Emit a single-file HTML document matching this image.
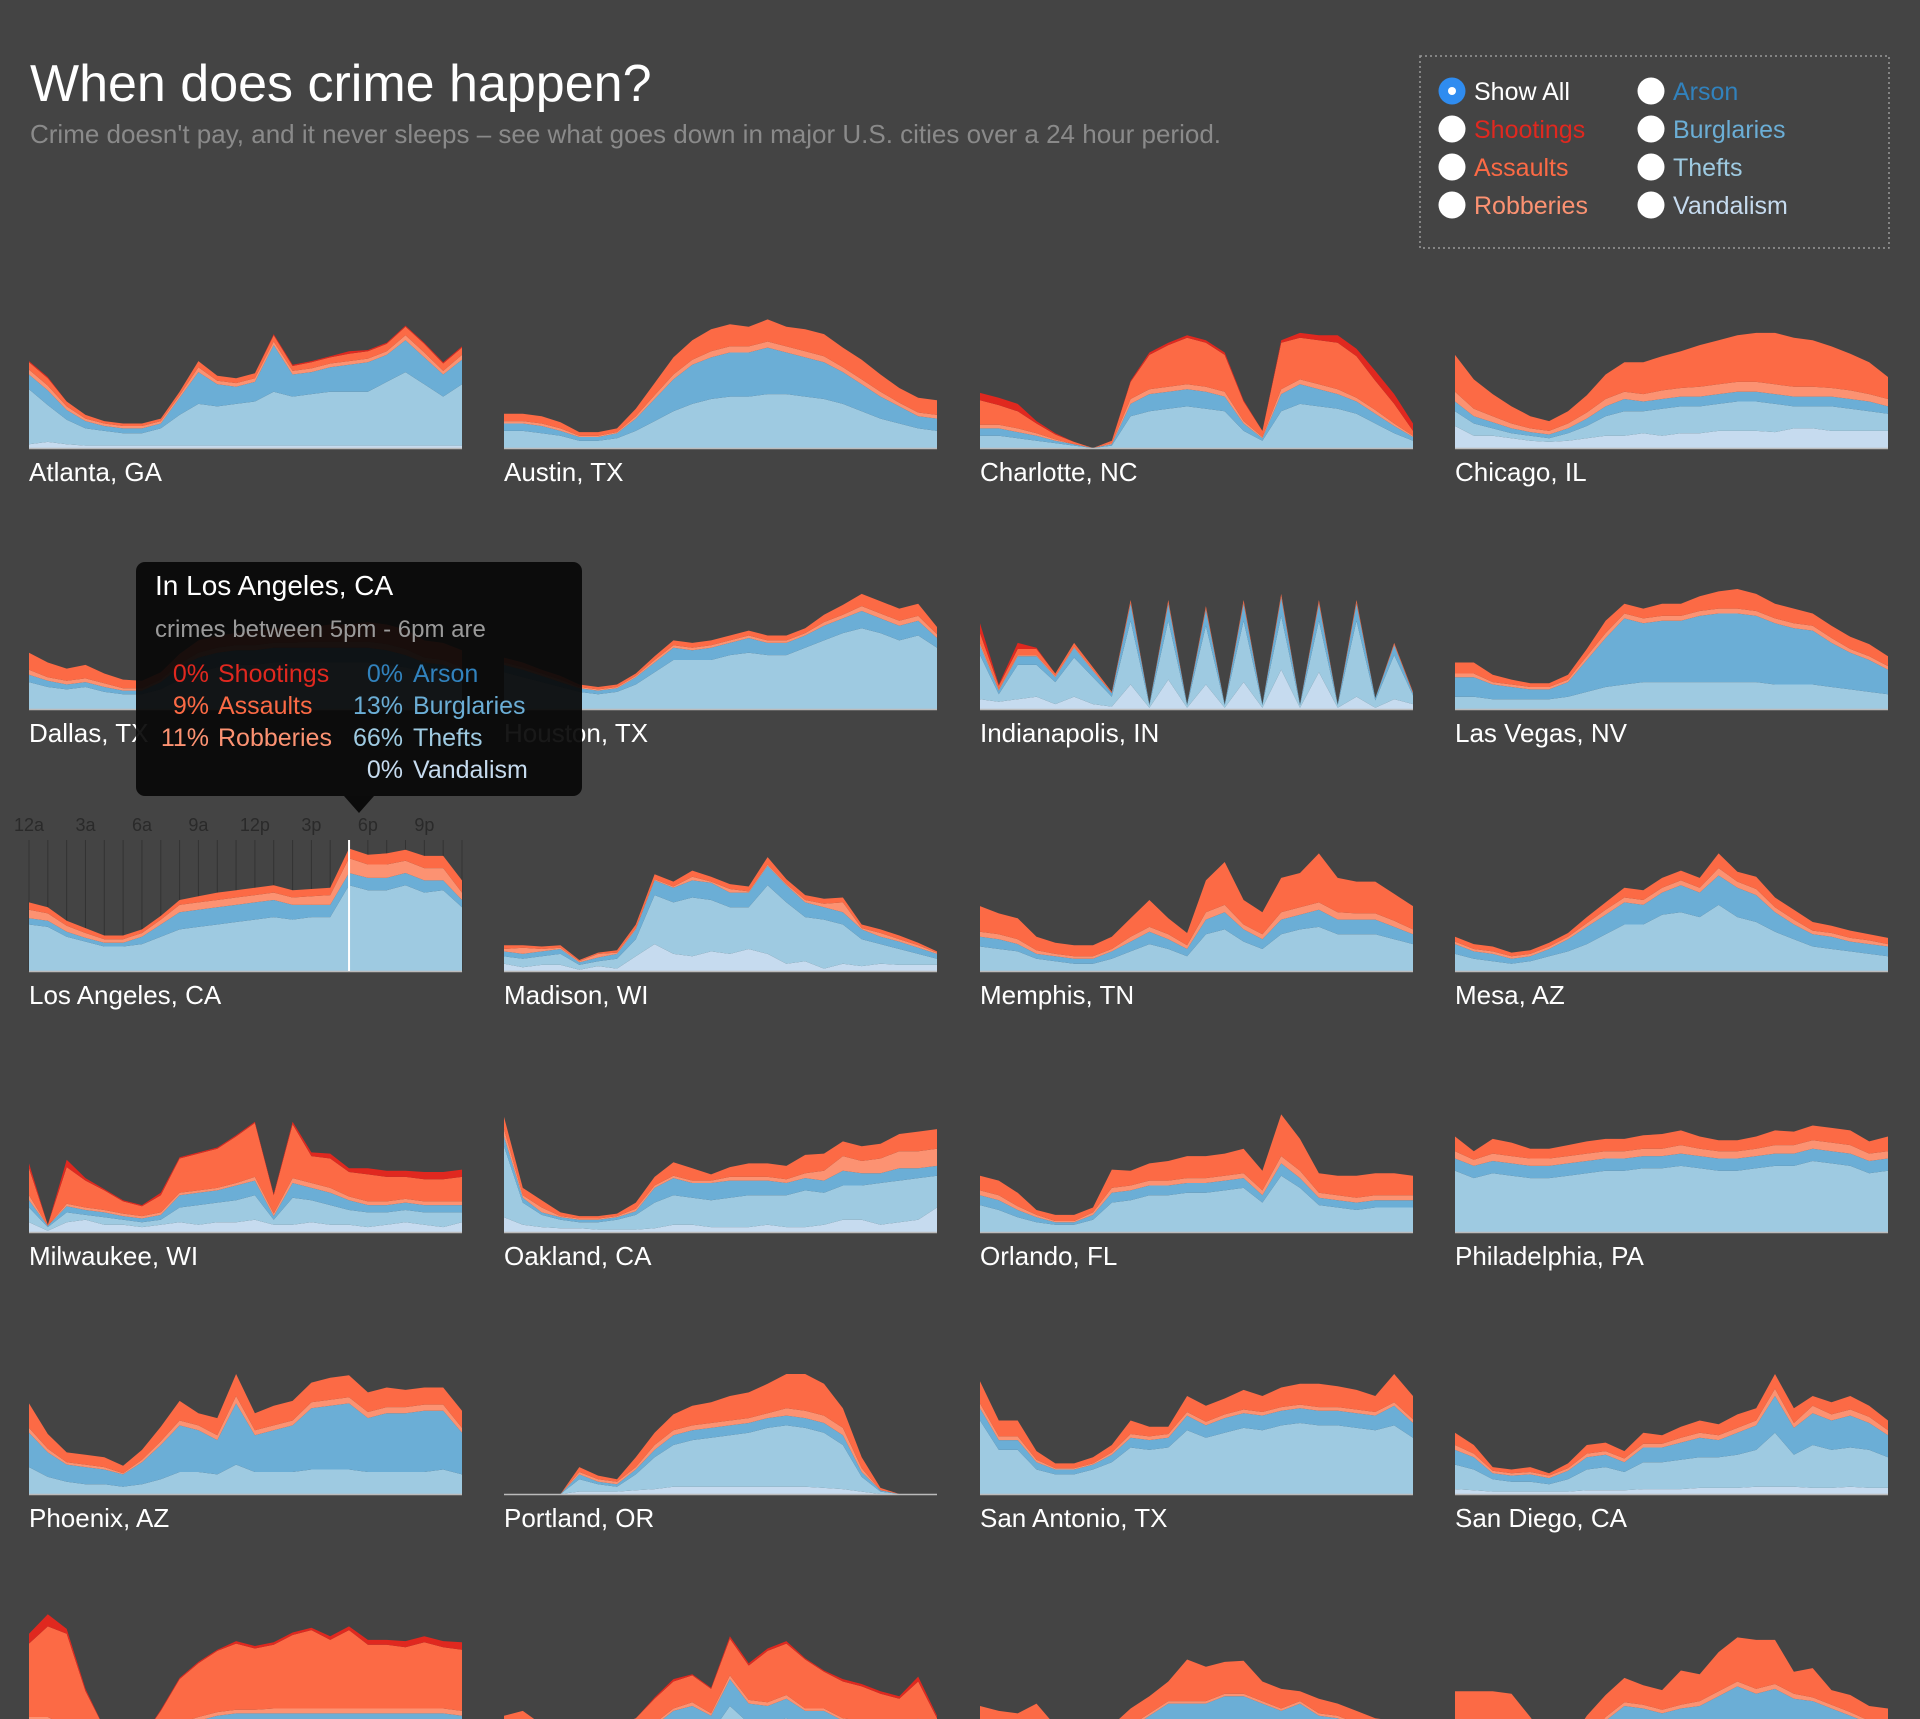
<!DOCTYPE html>
<html><head><meta charset="utf-8">
<style>
html,body{margin:0;padding:0;background:#444;}
body{width:1920px;height:1719px;overflow:hidden;font-family:"Liberation Sans",sans-serif;}
svg{display:block}
</style></head>
<body>
<svg id="page" width="1920" height="1719" xmlns="http://www.w3.org/2000/svg" font-family="Liberation Sans, sans-serif">
  <rect width="1920" height="1719" fill="#444"/>
  <text x="30" y="101" font-size="52" fill="#fff">When does crime happen?</text>
  <text x="30" y="143" font-size="26" fill="#8a8a8a">Crime doesn't pay, and it never sleeps – see what goes down in major U.S. cities over a 24 hour period.</text>
  <g id="legend">
    <rect x="1420" y="56" width="469" height="192" fill="none" stroke="#9a9a9a" stroke-width="1.5" stroke-dasharray="2,3"/>
  </g>
  <g id="charts"></g>
  <g id="tooltip"></g>
</svg>
<script>
const cities = ["Atlanta, GA","Austin, TX","Charlotte, NC","Chicago, IL","Dallas, TX","Houston, TX","Indianapolis, IN","Las Vegas, NV","Los Angeles, CA","Madison, WI","Memphis, TN","Mesa, AZ","Milwaukee, WI","Oakland, CA","Orlando, FL","Philadelphia, PA","Phoenix, AZ","Portland, OR","San Antonio, TX","San Diego, CA","San Francisco, CA","San Jose, CA","Seattle, WA","St. Louis, MO"];
const hourTicks = ["12a","3a","6a","9a","12p","3p","6p","9p"];
const vandalism = {
 "Atlanta, GA":[3,5,3,2,2,2,2,2,2,2,2,2,2,2,2,2,2,2,2,2,2,2,2,2],
 "Chicago, IL":[18,10,10,8,6,5,6,8,10,10,12,10,12,12,14,14,14,13,16,16,14,14,14,14],
 "Indianapolis, IN":[8,6,8,10,4,10,4,2,20,1,24,1,20,1,22,1,32,1,30,1,10,1,8,4],
 "Madison, WI":[6,3,5,5,1,4,2,12,22,14,12,16,14,18,14,6,8,2,6,4,6,5,5,5],
 "Milwaukee, WI":[8,1,8,10,6,6,4,6,8,6,8,8,10,6,6,8,6,6,4,6,8,6,4,8],
 "Oakland, CA":[12,6,4,3,3,2,2,2,3,6,6,4,4,4,6,4,4,6,10,10,6,8,10,20],
 "Portland, OR":[0,0,0,0,2,2,2,3,4,6,6,6,6,6,6,6,6,5,4,2,0,0,0,0],
 "San Diego, CA":[4,3,2,2,2,2,2,3,3,3,4,4,4,5,5,5,6,6,6,5,5,6,5,5]
};
const thefts = [
 [45,30,20,14,12,10,10,14,25,34,32,34,36,44,40,42,44,44,44,52,60,50,40,50],
 [14,14,12,10,6,6,8,14,22,30,36,40,42,42,44,44,42,40,36,30,24,20,16,14],
 [10,10,8,6,4,2,0,2,26,30,32,34,32,30,14,6,30,36,34,32,28,20,12,6],
 [12,10,6,4,4,3,6,10,16,20,18,22,22,22,22,24,24,23,18,18,20,18,16,14],
 [22,18,16,18,14,12,12,16,24,30,34,36,36,38,38,38,38,38,38,36,34,30,28,24],
 [30,26,22,18,14,12,14,20,30,40,40,40,44,46,44,44,50,56,62,66,62,56,60,50],
 [36,6,28,26,18,32,22,8,52,2,48,2,48,2,50,2,44,2,42,2,62,6,36,7],
 [10,10,8,8,8,8,10,14,18,20,22,22,22,22,22,22,22,20,20,20,18,16,14,12],
 [38,36,28,24,20,20,22,28,34,36,38,40,42,44,42,44,44,70,66,66,70,64,66,52],
 [6,7,7,9,4,4,8,14,40,42,48,42,38,34,56,50,36,40,32,22,16,13,9,5],
 [20,18,16,10,8,6,6,10,16,22,18,12,30,34,24,18,30,34,36,30,30,30,26,22],
 [14,10,8,6,8,12,16,22,30,38,38,46,48,44,54,44,40,32,26,20,18,16,14,12],
 [12,3,8,4,6,4,4,4,12,16,16,18,20,4,22,18,16,12,12,10,10,10,12,8],
 [58,18,10,7,5,6,8,12,21,24,22,22,24,26,24,26,30,26,28,28,34,34,34,26],
 [22,18,12,8,6,6,10,24,26,30,30,32,32,34,36,24,46,36,22,20,18,20,20,20],
 [50,44,48,46,44,44,46,48,50,50,52,52,54,52,50,50,52,54,54,58,56,54,48,50],
 [22,14,10,8,8,6,8,12,18,18,16,24,18,18,18,20,20,20,18,18,18,18,20,16],
 [0,0,0,0,10,6,4,13,26,34,38,40,42,44,48,50,48,45,36,12,2,0,0,0],
 [60,36,36,20,16,16,20,26,38,36,38,52,46,50,54,52,56,58,56,56,54,52,56,46],
 [20,17,10,8,8,6,10,17,19,15,22,22,24,25,25,27,30,44,26,35,31,32,31,25],
 [14,14,10,6,4,4,4,6,10,12,14,16,16,16,16,16,16,16,16,16,16,16,16,14],
 [4,8,2,2,2,2,2,6,12,18,22,18,40,26,26,30,22,22,16,16,12,10,14,4],
 [14,14,12,10,4,2,2,6,10,12,14,16,20,22,18,18,14,16,12,10,8,6,6,4],
 [10,10,10,10,6,2,2,4,12,16,14,12,14,16,18,20,20,20,18,16,14,12,10,10]
];
const burglaries = [
 [12,12,8,6,4,4,4,4,14,26,18,14,16,38,18,18,20,22,24,22,26,22,18,20],
 [6,6,6,4,3,3,4,10,18,26,32,34,36,36,38,34,32,30,26,22,18,14,10,10],
 [6,6,5,4,2,1,0,1,10,14,14,14,14,12,6,2,14,16,14,12,10,8,6,3],
 [8,6,5,4,3,3,4,6,8,10,8,8,8,8,8,8,8,8,8,8,8,8,8,6],
 [6,5,4,4,4,3,3,6,10,12,12,12,12,12,12,12,12,12,12,12,10,8,8,6],
 [6,6,5,4,3,3,3,6,8,10,8,10,10,12,10,10,10,12,12,14,12,12,12,8],
 [8,3,7,7,4,8,5,3,14,1,14,1,13,1,14,1,15,1,14,1,14,2,8,2],
 [16,16,12,10,8,8,12,26,40,54,48,50,50,54,56,56,54,50,46,44,36,30,26,20],
 [5,5,4,3,3,3,6,10,14,14,14,14,14,14,12,10,10,10,10,10,10,10,8,6],
 [4,4,4,4,2,3,4,8,12,12,14,14,12,12,16,14,12,10,10,8,6,6,5,4],
 [8,8,6,4,4,4,4,6,8,10,8,6,12,14,10,8,12,12,14,12,12,12,10,8],
 [8,6,6,4,4,6,10,14,16,18,16,18,22,20,24,24,22,16,12,10,10,8,8,8],
 [6,1,5,4,4,3,3,4,10,10,10,12,12,3,12,10,10,8,6,6,6,6,6,6],
 [8,4,2,2,2,2,2,3,12,14,12,14,14,12,12,10,10,10,12,10,8,10,8,8],
 [8,8,6,4,2,2,4,8,8,8,8,8,8,8,8,6,10,8,6,6,6,6,6,6],
 [10,10,10,10,10,10,10,10,10,10,10,10,10,10,10,10,10,10,10,10,10,10,10,10],
 [28,20,14,14,12,10,18,28,38,34,28,50,30,34,38,50,52,54,44,48,48,50,48,34],
 [0,0,0,0,4,2,2,4,6,8,8,8,8,8,8,8,8,8,8,4,1,0,0,0],
 [10,8,8,6,4,4,4,6,8,8,8,12,10,12,12,12,12,12,12,12,12,12,16,12],
 [12,10,5,5,6,5,7,10,10,8,12,12,14,16,14,18,20,30,22,26,24,26,22,18],
 [14,14,10,6,4,4,4,6,14,16,18,18,18,18,18,18,18,18,18,18,18,18,18,18],
 [4,8,2,2,2,2,2,6,12,18,18,14,22,16,14,16,14,14,12,10,10,10,14,4],
 [12,10,10,10,4,2,2,6,12,20,28,26,22,26,30,24,22,26,20,20,16,12,12,8],
 [12,12,12,12,6,2,2,6,16,24,24,22,24,24,30,36,30,34,28,28,24,20,16,14]
];
const robberies = [
 [4,4,3,2,2,2,2,2,2,4,3,3,3,3,3,3,3,3,3,3,4,4,3,4],
 [2,2,2,2,1,1,1,2,3,4,4,5,5,5,5,5,5,5,4,4,4,3,3,3],
 [3,3,3,2,1,0,0,1,4,4,4,4,4,4,2,1,4,4,4,4,3,3,2,1],
 [8,6,5,4,3,3,4,5,6,6,6,7,7,8,8,8,8,8,8,8,7,7,6,6],
 [4,3,3,3,3,2,2,2,3,4,4,4,4,4,4,5,5,5,5,5,5,4,4,4],
 [2,2,2,2,1,1,1,1,2,2,2,2,2,2,2,2,2,3,3,4,4,4,4,3],
 [2,1,1,1,1,1,1,0,1,0,1,0,1,0,1,0,1,0,1,0,1,0,1,0],
 [3,3,2,2,2,2,2,3,4,4,4,4,4,4,4,4,4,4,4,4,4,3,3,3],
 [7,6,5,4,3,3,3,4,6,6,6,6,6,6,6,7,8,12,11,11,10,10,10,6],
 [2,5,2,1,1,3,1,1,1,1,3,1,3,1,1,1,2,3,8,1,3,2,2,1],
 [4,4,4,3,2,2,2,2,4,4,4,3,6,6,4,4,6,6,6,6,5,5,5,4],
 [2,2,2,2,2,2,2,3,4,4,4,4,4,4,6,5,5,4,4,3,3,3,3,2],
 [4,0,2,2,2,2,2,2,2,2,2,2,3,2,4,4,4,3,3,3,3,3,3,3],
 [6,2,4,1,1,1,1,2,2,2,2,2,3,3,3,3,4,8,12,10,12,14,14,14],
 [4,4,3,2,1,1,2,4,4,4,4,4,4,4,4,4,6,6,4,4,4,4,4,4],
 [6,5,6,6,6,6,6,6,6,6,6,6,7,6,6,6,6,7,7,7,7,7,6,6],
 [4,3,2,2,2,1,2,3,4,4,4,6,4,4,4,5,5,5,5,5,5,5,5,4],
 [0,0,0,0,2,2,2,2,4,4,4,4,4,4,4,6,6,6,6,3,0,0,0,0],
 [4,3,3,2,1,1,1,2,3,3,3,3,3,3,3,3,3,3,3,3,3,3,3,3],
 [4,3,2,2,2,2,2,3,3,3,3,3,4,4,4,4,4,6,4,6,5,5,5,4],
 [3,3,3,2,2,2,2,2,2,3,3,3,3,4,4,4,4,4,4,4,4,4,4,4],
 [2,2,1,1,1,1,1,2,2,2,3,2,3,3,3,3,2,2,2,2,2,2,2,2],
 [2,2,2,2,1,1,1,2,2,2,2,2,2,2,2,2,2,2,2,2,2,2,2,2],
 [2,2,2,2,1,1,1,2,3,3,3,3,3,4,4,4,4,4,4,3,3,3,2,2]
];
const assaults = [
 [6,6,4,3,2,2,2,2,3,5,4,4,4,5,4,5,5,6,6,6,7,7,6,6],
 [6,6,6,5,3,3,3,6,10,14,16,18,18,16,18,16,18,18,16,16,14,12,12,12],
 [20,16,14,8,4,2,0,2,14,28,34,38,36,30,16,5,38,34,36,38,34,24,16,4],
 [30,24,18,14,10,8,10,14,20,24,26,28,30,34,36,38,40,42,40,38,34,30,26,18],
 [14,12,10,11,8,7,6,6,8,10,10,10,12,12,12,12,14,14,16,16,16,14,14,14],
 [4,4,3,3,2,2,2,2,3,4,4,4,4,4,4,4,4,6,8,10,10,10,10,6],
 [8,3,5,5,2,3,2,1,2,0,2,0,2,0,2,0,2,0,2,0,2,0,1,1],
 [9,9,6,4,3,3,4,6,10,8,8,10,10,12,14,16,14,12,12,10,10,10,10,8],
 [6,5,4,4,3,3,3,3,4,5,6,6,6,6,6,6,6,8,8,9,9,10,10,10],
 [3,2,2,2,1,1,2,3,4,4,5,4,4,4,6,4,4,4,4,3,3,3,2,1],
 [21,17,17,11,9,9,9,10,15,22,13,10,26,35,20,18,28,28,40,28,26,26,22,19],
 [4,4,4,3,3,3,3,5,6,8,8,8,8,8,12,8,10,8,8,7,6,6,5,5],
 [22,1,30,22,16,10,8,14,28,30,32,38,44,15,44,22,24,20,22,20,18,18,18,20],
 [10,6,6,3,2,2,2,5,7,11,10,5,8,11,11,11,15,14,12,12,12,14,16,16],
 [12,12,11,4,5,5,4,15,12,14,16,18,18,18,20,16,34,26,16,16,18,18,18,16],
 [12,7,12,11,8,8,9,10,10,10,11,12,12,10,9,9,10,12,11,12,12,12,10,12],
 [20,12,8,8,8,6,8,12,16,10,14,18,14,16,16,16,18,18,16,16,14,14,14,14],
 [0,0,0,0,4,3,2,8,10,13,16,17,20,21,24,28,30,26,16,9,2,0,0,0],
 [18,13,13,7,4,4,5,6,11,8,6,13,13,13,16,13,16,17,19,17,16,13,23,19],
 [10,7,3,3,4,2,4,7,7,6,9,7,9,10,9,11,10,12,12,8,10,11,9,8],
 [60,74,76,38,12,4,4,22,36,44,50,54,50,52,60,64,56,64,52,52,50,54,50,50],
 [22,18,20,20,20,20,20,16,20,22,22,20,30,28,42,42,40,30,30,28,26,24,30,20],
 [12,10,10,20,15,8,8,10,14,14,16,34,28,26,27,16,16,8,12,10,10,10,8,6],
 [28,28,28,26,18,4,4,20,18,20,16,16,28,22,32,36,40,36,18,24,12,14,12,12]
];
const shootings = {
 "Atlanta, GA":[1,1,0,0,0,0,0,0,0,0,0,0,0,1,1,1,1,2,1,1,1,1,1,1],
 "Charlotte, NC":[6,6,6,2,1,0,0,0,1,2,2,2,2,2,1,0,2,4,4,6,6,8,8,6],
 "Indianapolis, IN":[8,1,5,1,0,0,0,0,0,0,0,0,0,0,0,0,0,0,0,0,0,0,0,0],
 "Milwaukee, WI":[4,0,6,2,1,1,1,2,1,1,1,1,1,1,2,3,4,3,5,5,5,6,6,6],
 "San Francisco, CA":[8,10,4,2,0,0,0,1,1,1,1,2,2,2,2,2,3,3,4,4,5,5,5,6],
 "San Jose, CA":[0,0,0,0,0,0,0,0,1,2,1,1,2,2,2,2,1,1,2,2,2,2,4,2]
};

const colX0 = [29, 504, 980, 1455];
const rowBase = [448, 709, 971, 1232, 1494, 1755];
const chartW = 433;
const pxPerUnit = 1.2245;
const layerColors = ["#c6dbef","#9ecae1","#6baed6","#fc9272","#fc6a45","#e0281f"];
const layerNames = ["vandalism","thefts","burglaries","robberies","assaults","shootings"];
const NS = "http://www.w3.org/2000/svg";
const chartsG = document.getElementById("charts");

function xScale(col, h) { return colX0[col] + h * chartW / 23; }
function yScale(row, v) { return rowBase[row] - v * pxPerUnit; }

cities.forEach((name, ci) => {
  const col = ci % 4, row = Math.floor(ci / 4);
  const g = document.createElementNS(NS, "g");
  
  
  chartsG.appendChild(g);
  const zeros = new Array(24).fill(0);
  const layers = [vandalism[name] || zeros, thefts[ci], burglaries[ci], robberies[ci], assaults[ci], shootings[name] || zeros];
  let lower = zeros.slice();
  layers.forEach((vals, li) => {
    const upper = lower.map((l, h) => l + vals[h]);
    let d = "";
    for (let h = 0; h < 24; h++) d += (h ? "L" : "M") + xScale(col, h).toFixed(1) + "," + yScale(row, upper[h]).toFixed(1);
    for (let h = 23; h >= 0; h--) d += "L" + xScale(col, h).toFixed(1) + "," + yScale(row, lower[h]).toFixed(1);
    d += "Z";
    const p = document.createElementNS(NS, "path");
    p.setAttribute("d", d);
    p.setAttribute("fill", layerColors[li]);
    
    
    g.appendChild(p);
    lower = upper;
  });
  const base = document.createElementNS(NS, "line");
  base.setAttribute("x1", colX0[col]); base.setAttribute("x2", colX0[col] + chartW);
  base.setAttribute("y1", rowBase[row] + 0.5); base.setAttribute("y2", rowBase[row] + 0.5);
  base.setAttribute("stroke", "#bbb"); base.setAttribute("stroke-width", "1.5");
  
  
  g.appendChild(base);
  const t = document.createElementNS(NS, "text");
  t.setAttribute("x", colX0[col]); t.setAttribute("y", rowBase[row] + 33);
  t.setAttribute("font-size", "26"); t.setAttribute("fill", "#fff");
  t.textContent = name;
  
  
  g.appendChild(t);
});

(function () {
  const col = 0, row = 2;
  const grid = document.createElementNS(NS, "g");
  
  
  chartsG.insertBefore(grid, chartsG.firstChild);
  for (let h = 0; h < 24; h++) {
    const l = document.createElementNS(NS, "line");
    const x = xScale(col, h);
    l.setAttribute("x1", x); l.setAttribute("x2", x);
    l.setAttribute("y1", 840); l.setAttribute("y2", rowBase[row]);
    l.setAttribute("stroke", "#333"); l.setAttribute("stroke-width", "1");
    
    
    grid.appendChild(l);
  }
  hourTicks.forEach((lab, i) => {
    const t = document.createElementNS(NS, "text");
    t.setAttribute("x", xScale(col, i * 3)); t.setAttribute("y", 831);
    t.setAttribute("text-anchor", "middle"); t.setAttribute("font-size", "18"); t.setAttribute("fill", "#2a2a2a");
    t.textContent = lab;
    
    
    grid.appendChild(t);
  });
  const hl = document.createElementNS(NS, "line");
  const hx = xScale(col, 17);
  hl.setAttribute("x1", hx); hl.setAttribute("x2", hx);
  hl.setAttribute("y1", 840); hl.setAttribute("y2", rowBase[row]);
  hl.setAttribute("stroke", "#fff"); hl.setAttribute("stroke-width", "2");
  
  
  chartsG.appendChild(hl);
})();

const legendItems = [["Show All","#ffffff",true],["Shootings","#e0281f"],["Assaults","#fc6a45"],["Robberies","#fc9272"],["Arson","#3182bd"],["Burglaries","#6baed6"],["Thefts","#9ecae1"],["Vandalism","#c6dbef"]];
const legendG = document.getElementById("legend");
legendItems.forEach((it, i) => {
  const c = i < 4 ? 0 : 1, r = i % 4;
  const cx = c ? 1651 : 1452, cy = 91 + r * 38;
  const g = document.createElementNS(NS, "g");
  
  
  const circ = document.createElementNS(NS, "circle");
  circ.setAttribute("cx", cx); circ.setAttribute("cy", cy); circ.setAttribute("r", 13.5);
  circ.setAttribute("fill", it[2] ? "#2f8cf0" : "#fff");
  
  
  g.appendChild(circ);
  if (it[2]) {
    const dot = document.createElementNS(NS, "circle");
    dot.setAttribute("cx", cx); dot.setAttribute("cy", cy); dot.setAttribute("r", 4); dot.setAttribute("fill", "#fff");
    
    
    g.appendChild(dot);
  }
  const t = document.createElementNS(NS, "text");
  t.setAttribute("x", cx + 22); t.setAttribute("y", cy + 9);
  t.setAttribute("font-size", "25"); t.setAttribute("fill", it[1]);
  t.textContent = it[0];
  
  
  g.appendChild(t);
  legendG.appendChild(g);
});

const tipLeft = [["0%","Shootings","#e0281f"],["9%","Assaults","#fc6a45"],["11%","Robberies","#fc9272"]];
const tipRight = [["0%","Arson","#3182bd"],["13%","Burglaries","#6baed6"],["66%","Thefts","#9ecae1"],["0%","Vandalism","#c6dbef"]];
const tipG = document.getElementById("tooltip");
(function () {
  const r = document.createElementNS(NS, "rect");
  r.setAttribute("x", 136); r.setAttribute("y", 562); r.setAttribute("width", 446); r.setAttribute("height", 234);
  r.setAttribute("rx", 9); r.setAttribute("fill", "rgba(8,8,8,0.93)");
  
  
  tipG.appendChild(r);
  const a = document.createElementNS(NS, "path");
  a.setAttribute("d", "M344,796 L359,813 L374,796 Z"); a.setAttribute("fill", "rgba(8,8,8,0.95)");
  
  
  tipG.appendChild(a);
  function txt(x, y, s, fill, size, anchor, nm) {
    const t = document.createElementNS(NS, "text");
    t.setAttribute("x", x); t.setAttribute("y", y); t.setAttribute("font-size", size); t.setAttribute("fill", fill);
    if (anchor) t.setAttribute("text-anchor", anchor);
    t.textContent = s;
    
    
    tipG.appendChild(t);
  }
  txt(155, 595, "In Los Angeles, CA", "#fff", 28, null, "tooltip-title");
  txt(155, 637, "crimes between 5pm - 6pm are", "#9a9a9a", 24, null, "tooltip-subtitle");
  tipLeft.forEach((row, i) => {
    txt(209, 682 + i * 32, row[0], row[2], 25, "end", "tooltip-percent");
    txt(218, 682 + i * 32, row[1], row[2], 25, null, "tooltip-category");
  });
  tipRight.forEach((row, i) => {
    txt(403, 682 + i * 32, row[0], row[2], 25, "end", "tooltip-percent");
    txt(413, 682 + i * 32, row[1], row[2], 25, null, "tooltip-category");
  });
})();
</script>
</body></html>
